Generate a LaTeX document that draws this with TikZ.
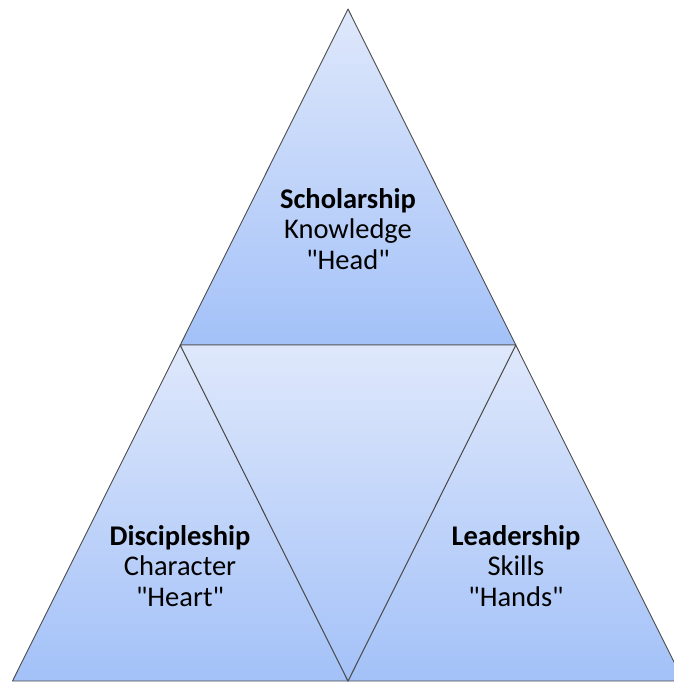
\documentclass[tikz,border=0pt]{standalone}
\usepackage{fontspec}
\setmainfont{Carlito}[Ligatures=TeXOff]
\usetikzlibrary{calc}
\definecolor{lightblue}{HTML}{DFE8FB}
\definecolor{darkblue}{HTML}{A3C1F8}

\begin{document}
\begin{tikzpicture}[
    x=1pt, y=-1pt,
    part/.style={
        draw=black!70, line width=0.9pt, line join=round,
        top color=lightblue, bottom color=darkblue
    },
    label/.style={
        align=center, font=\fontsize{28.5}{30.5}\selectfont
    }
]
    \useasboundingbox (0,0) rectangle (674,683);

    \coordinate (Apex) at (348,9);
    \coordinate (BL) at (12.5,681);
    \coordinate (BR) at (683.5,681);
    \coordinate (ML) at ($(Apex)!0.5!(BL)$);
    \coordinate (MR) at ($(Apex)!0.5!(BR)$);
    \coordinate (MB) at ($(BL)!0.5!(BR)$);

    \path[part] (Apex) -- (MR) -- (ML) -- cycle;
    \path[part] (ML) -- (MB) -- (BL) -- cycle;
    \path[part] (MR) -- (BR) -- (MB) -- cycle;
    \path[part] (ML) -- (MR) -- (MB) -- cycle;

    \node[label] (Scholarship) at (348,229) {\textbf{Scholarship}\\Knowledge\\"Head"};
    \node[label] (Discipleship) at (180,566) {\textbf{Discipleship}\\Character\\"Heart"};
    \node[label] (Leadership) at (516,566) {\textbf{Leadership}\\Skills\\"Hands"};
\end{tikzpicture}
\end{document}
